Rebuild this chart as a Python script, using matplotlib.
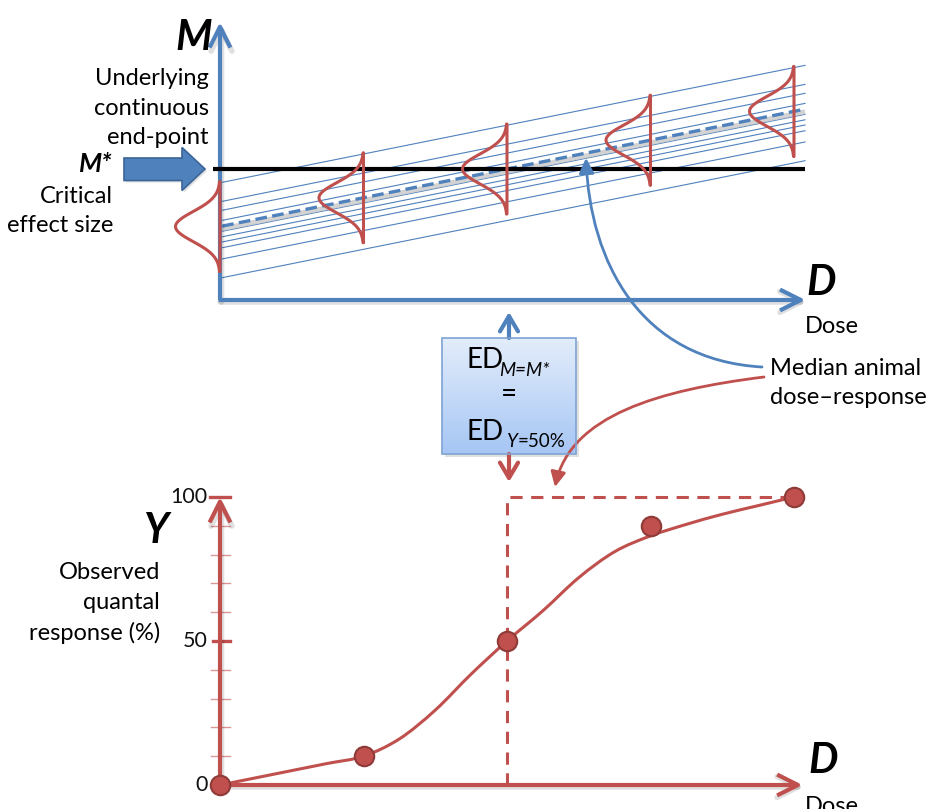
import numpy as np
import matplotlib
matplotlib.use("Agg")
import matplotlib.pyplot as plt
from matplotlib.patches import Polygon, Rectangle, FancyArrowPatch, PathPatch
from matplotlib.path import Path

plt.rcParams['font.family'] = ['Lato', 'DejaVu Sans']

# ---------------- data ----------------
# top panel: latent continuous end-point M versus dose D
m_star = 45.5                     # critical effect size M*
median_intercept = 25.5           # median animal M at D = 0
slope = 10.0                      # change of M per dose unit
animal_intercepts = [40.7, 34.1, 31.0, 27.5, 23.7, 21.8, 20.0, 18.0, 14.1, 7.6]
bell_doses = [0, 1, 2, 3, 4]
bell_sigma = 5.2
ed50 = 2.0

# bottom panel: observed quantal response (%)
obs_dose = [0, 1, 2, 3, 4]
obs_resp = [0, 10, 50, 90, 100]
curve_dose = [0, 0.25, 0.5, 0.75, 1.0, 1.25, 1.5, 1.75, 2.0, 2.25, 2.5, 2.75,
              3.0, 3.25, 3.5, 3.75, 4.0]
curve_resp = [0, 2.5, 5, 7.5, 10, 16, 26, 38.5, 50, 60.5, 72, 81,
              86.5, 90.5, 94, 97, 100]
y_ticks_minor = [10, 20, 30, 40, 60, 70, 80, 90]
y_ticks_major = [0, 50, 100]
d_max = 4.08

BLUE = '#4F81BD'
RED = '#C0504D'
FS = 17

W, H = 927, 809
fig = plt.figure(figsize=(W / 100, H / 100), dpi=100)

X0 = 220.0
PXD = 143.5     # pixels per dose unit
PXM = 2.88      # pixels per M / Y unit


def make_axes(y_zero_px, z):
    ax = fig.add_axes([0, 0, 1, 1], zorder=z)
    ax.set_xlim(-X0 / PXD, (W - X0) / PXD)
    ax.set_ylim(-(H - y_zero_px) / PXM, y_zero_px / PXM)
    ax.set_axis_off()
    return ax


axT = make_axes(300.0, 2)
axB = make_axes(785.0, 3)
ov = fig.add_axes([0, 0, 1, 1], zorder=4)
ov.set_xlim(0, W)
ov.set_ylim(H, 0)
ov.set_axis_off()

SH_DX, SH_DY = 1.5 / PXD, -2.0 / PXM   # drop shadow offset in data units


def axis_arrow(ax, p0, p1, color, lw=3.0, shadow=True):
    style = '->,head_length=1.5,head_width=0.75'
    if shadow:
        ax.annotate('', xy=(p1[0] + SH_DX, p1[1] + SH_DY), xytext=(p0[0] + SH_DX, p0[1] + SH_DY),
                    arrowprops=dict(arrowstyle=style, lw=lw + 1, color='#000000', alpha=0.12,
                                    shrinkA=0, shrinkB=0, mutation_scale=10))
    ax.annotate('', xy=p1, xytext=p0,
                arrowprops=dict(arrowstyle=style, lw=lw, color=color, shrinkA=0, shrinkB=0,
                                mutation_scale=10, capstyle='butt'))


def smooth_path(xs, ys):
    pts = np.column_stack([xs, ys]).astype(float)
    n = len(pts)
    verts = [pts[0]]
    codes = [Path.MOVETO]
    for i in range(n - 1):
        p0 = pts[i - 1] if i > 0 else pts[i]
        p1, p2 = pts[i], pts[i + 1]
        p3 = pts[i + 2] if i + 2 < n else pts[i + 1]
        c1 = p1 + (p2 - p0) / 6.0
        c2 = p2 - (p3 - p1) / 6.0
        verts += [c1, c2, p2]
        codes += [Path.CURVE4] * 3
    return Path(verts, codes)


# ---------------- top panel ----------------
x_lo, x_hi = 0.015, 4.077
for b in animal_intercepts:
    axT.plot([x_lo, x_hi], [b + slope * x_lo, b + slope * x_hi],
             color=BLUE, lw=0.8, zorder=2)
# shadow + dashed median
axT.plot([x_lo, x_hi], [median_intercept + slope * x_lo - 0.9, median_intercept + slope * x_hi - 0.9],
         color='#C8C8C8', lw=3.5, alpha=0.8, zorder=2.5, solid_capstyle='butt')
axT.plot([x_lo, x_hi], [median_intercept + slope * x_lo, median_intercept + slope * x_hi],
         color=BLUE, lw=2.4, dashes=(3.5, 1.6), zorder=3)

# axes
axis_arrow(axT, (0, 0), (0, 96.5), BLUE)
axis_arrow(axT, (-0.01, 0), (d_max, 0), BLUE)

# critical effect line
axT.plot([-0.05, 4.08], [m_star, m_star], color='black', lw=3.0, zorder=4,
         solid_capstyle='butt')

# bell curves
w_bell = 0.31
for d in bell_doses:
    mc = median_intercept + slope * d
    m = np.linspace(-3 * bell_sigma, 3 * bell_sigma, 120)
    xb = d - w_bell * np.exp(-m ** 2 / (2 * bell_sigma ** 2))
    xs = np.concatenate([xb, [d, d]])
    ys = np.concatenate([mc + m, [mc + 3 * bell_sigma, mc - 3 * bell_sigma]])
    axT.plot(xs, ys, color=RED, lw=2.2, zorder=5, solid_joinstyle='round',
             solid_capstyle='round')

# ---------------- bottom panel ----------------
axis_arrow(axB, (0, 0), (0, 100), RED)
axis_arrow(axB, (-0.01, 0), (d_max - 0.02, 0), RED)
for t in y_ticks_minor:
    axB.plot([-0.062, 0.07], [t, t], color='#D99694', lw=1.0, zorder=2)
for t in y_ticks_major[1:]:
    axB.plot([-0.07 if t == 100 else -0.05, 0.07], [t, t], color=RED, lw=2.4, zorder=2)
for t in y_ticks_major:
    axB.text(-0.085, t, str(t), ha='right', va='center', fontsize=15.5, color='#111111')

axB.plot([ed50, ed50, obs_dose[-1]], [0, 100, 100], color=RED, lw=2.2,
         dashes=(4, 2.8), zorder=3)
axB.add_patch(PathPatch(smooth_path(curve_dose, curve_resp), fc='none', ec=RED, lw=2.2,
                        zorder=4))
axB.plot(obs_dose, obs_resp, 'o', ms=14, mfc=RED, mec='#8E3A37', mew=1.5, zorder=5)

# ---------------- annotations ----------------
# block arrow for M*
arrow_poly = [(124, 158), (182, 158), (182, 147.5), (205, 169), (182, 190.5),
              (182, 180.5), (124, 180.5)]
ov.add_patch(Polygon([(x + 2, y + 2) for x, y in arrow_poly], closed=True, fc='black',
                     alpha=0.12, ec='none', zorder=2))
ov.add_patch(Polygon(arrow_poly, closed=True, fc=BLUE, ec='#3B6597', lw=1.2, zorder=3))

LS = 1.5
ov.text(212, 50, 'M', fontsize=30, fontweight='bold', style='italic', ha='right',
        va='baseline')
ov.text(209, 108, 'Underlying\ncontinuous\nend-point', fontsize=FS, ha='right',
        va='center', linespacing=LS)
ov.text(113, 172, 'M*', fontsize=19, fontweight='bold', style='italic', ha='right',
        va='baseline')
ov.text(113, 211, 'Critical\neffect size', fontsize=FS, ha='right', va='center',
        linespacing=LS)
ov.text(806, 295, 'D', fontsize=30, fontweight='bold', style='italic', ha='left',
        va='baseline')
ov.text(805, 333, 'Dose', fontsize=FS, ha='left', va='baseline')
ov.text(808, 773, 'D', fontsize=30, fontweight='bold', style='italic', ha='left',
        va='baseline')
ov.text(805, 813, 'Dose', fontsize=FS, ha='left', va='baseline')
ov.text(168, 543, 'Y', fontsize=30, fontweight='bold', style='italic', ha='right',
        va='baseline')
ov.text(160, 603, 'Observed\nquantal\nresponse (%)', fontsize=FS, ha='right',
        va='center', linespacing=LS)
ov.text(770, 383, 'Median animal\ndose\u2013response', fontsize=FS, ha='left',
        va='center', linespacing=LS)

# box with gradient
bx0, bx1, by0, by1 = 442, 576, 338, 454
ov.add_patch(Rectangle((bx0 + 3, by0 + 3), bx1 - bx0, by1 - by0, fc='#000000',
                       alpha=0.12, ec='none', zorder=2))
grad = np.linspace(0, 1, 100)[:, None]
cmap = matplotlib.colors.LinearSegmentedColormap.from_list('g', ['#E3EDFB', '#A6C6F4'])
im = ov.imshow(grad, extent=[bx0, bx1, by1, by0], cmap=cmap, aspect='auto', zorder=3)
rect = Rectangle((bx0, by0), bx1 - bx0, by1 - by0, fc='none', ec='#7EA3D3', lw=1.2,
                 zorder=4)
ov.add_patch(rect)
im.set_clip_path(rect)
ov.set_xlim(0, W)
ov.set_ylim(H, 0)

renderer = fig.canvas.get_renderer()


def text_run(x, y, parts):
    """place consecutive text pieces on one baseline (pixel coords from top-left)."""
    for s, kw in parts:
        t = ov.text(x, y, s, ha='left', va='baseline', zorder=5, **kw)
        bb = t.get_window_extent(renderer)
        x += bb.width
    return x


text_run(467, 368, [('ED', dict(fontsize=20))])
text_run(499, 376, [('M=M*', dict(fontsize=13.5, style='italic'))])
ov.text(509, 402, '=', fontsize=20, ha='center', va='baseline', zorder=5)
text_run(467, 440, [('ED', dict(fontsize=20))])
text_run(507, 447, [('Y', dict(fontsize=13.5, style='italic')),
                    ('=50%', dict(fontsize=13.5))])

# small arrows from box
ov.annotate('', xy=(509, 312), xytext=(509, 338),
            arrowprops=dict(arrowstyle='->,head_length=1.1,head_width=0.65', lw=3,
                            color=BLUE, shrinkA=0, shrinkB=0, mutation_scale=10))
ov.annotate('', xy=(509, 482), xytext=(509, 454),
            arrowprops=dict(arrowstyle='->,head_length=1.1,head_width=0.65', lw=3,
                            color=RED, shrinkA=0, shrinkB=0, mutation_scale=10))

# curved connectors
blue_path = Path([(762, 367), (640, 360), (590, 262), (586, 158)],
                 [Path.MOVETO, Path.CURVE4, Path.CURVE4, Path.CURVE4])
ov.add_patch(FancyArrowPatch(path=blue_path, arrowstyle='-|>,head_length=0.9,head_width=0.45',
                             color=BLUE, lw=2.0, mutation_scale=10, zorder=3))
red_path = Path([(764, 377), (660, 390), (570, 415), (555, 487)],
                [Path.MOVETO, Path.CURVE4, Path.CURVE4, Path.CURVE4])
ov.add_patch(FancyArrowPatch(path=red_path, arrowstyle='-|>,head_length=0.9,head_width=0.45',
                             color=RED, lw=2.0, mutation_scale=10, zorder=3))

fig.savefig('out.png', dpi=100)
